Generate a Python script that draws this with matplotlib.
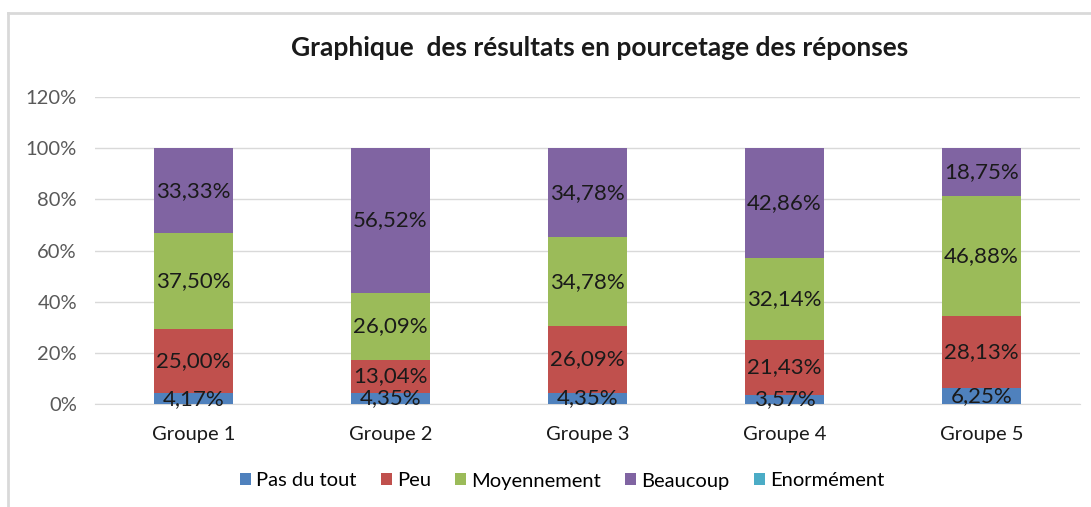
import numpy as np
import matplotlib.pyplot as plt
from matplotlib.lines import Line2D

plt.rcParams['font.family'] = ['Lato', 'DejaVu Sans']

groupes = ["Groupe 1", "Groupe 2", "Groupe 3", "Groupe 4", "Groupe 5"]
series = ["Pas du tout", "Peu", "Moyennement", "Beaucoup", "Enormément"]
pas_du_tout = [4.17, 4.35, 4.35, 3.57, 6.25]
peu = [25.00, 13.04, 26.09, 21.43, 28.13]
moyennement = [37.50, 26.09, 34.78, 32.14, 46.88]
beaucoup = [33.33, 56.52, 34.78, 42.86, 18.75]
enormement = [0, 0, 0, 0, 0]
couleurs = ["#4F81BD", "#C0504D", "#9BBB59", "#8064A2", "#4BACC6"]

fig = plt.figure(figsize=(10.91, 5.07), dpi=100)
ax = fig.add_axes([95/1091, 1 - 404/507, 985/1091, 307/507])

x = np.arange(len(groupes))
bottom = np.zeros(len(groupes))
for nom, vals, c in zip(series, [pas_du_tout, peu, moyennement, beaucoup, enormement], couleurs):
    vals = np.array(vals)
    ax.bar(x, vals, 0.4, bottom=bottom, color=c, label=nom, zorder=3)
    for xi, b, v in zip(x, bottom, vals):
        if v > 0:
            ax.text(xi, b + v / 2, ("%.2f%%" % v).replace(".", ","), ha="center", va="center",
                    fontsize=16, color="#1a1a1a", zorder=4)
    bottom += vals

ax.set_xlim(-0.5, 4.5)
ax.set_ylim(0, 120)
ax.set_yticks(range(0, 121, 20))
ax.set_yticklabels(["%d%%" % v for v in range(0, 121, 20)], color="#595959", fontsize=14.5)
ax.set_xticks(x)
ax.set_xticklabels(groupes, fontsize=14.5, color="#1a1a1a")
ax.tick_params(axis="x", length=0, pad=16)
ax.tick_params(axis="y", length=0, pad=13)
ax.grid(axis="y", color="#d9d9d9", linewidth=1, zorder=0)
for s in ["top", "right", "left"]:
    ax.spines[s].set_visible(False)
ax.spines["bottom"].set_color("#d9d9d9")

fig.text(600/1091, 1 - 48/507, "Graphique  des résultats en pourcetage des réponses",
         ha="center", va="center", fontsize=19, fontweight="bold", color="#1a1a1a")

fig.legend(loc="center", bbox_to_anchor=(562/1091, 1 - 481/507), ncol=5, frameon=False,
           fontsize=14.5, handlelength=0.55, handleheight=0.55, handletextpad=0.25, columnspacing=1.2)

# cadre du graphique
fig.add_artist(Line2D([8/1091, 8/1091], [0, 1 - 13/507], color="#d9d9d9", linewidth=2))
fig.add_artist(Line2D([8/1091, 1], [1 - 13/507, 1 - 13/507], color="#d9d9d9", linewidth=2))

fig.savefig("out.png", dpi=100)
